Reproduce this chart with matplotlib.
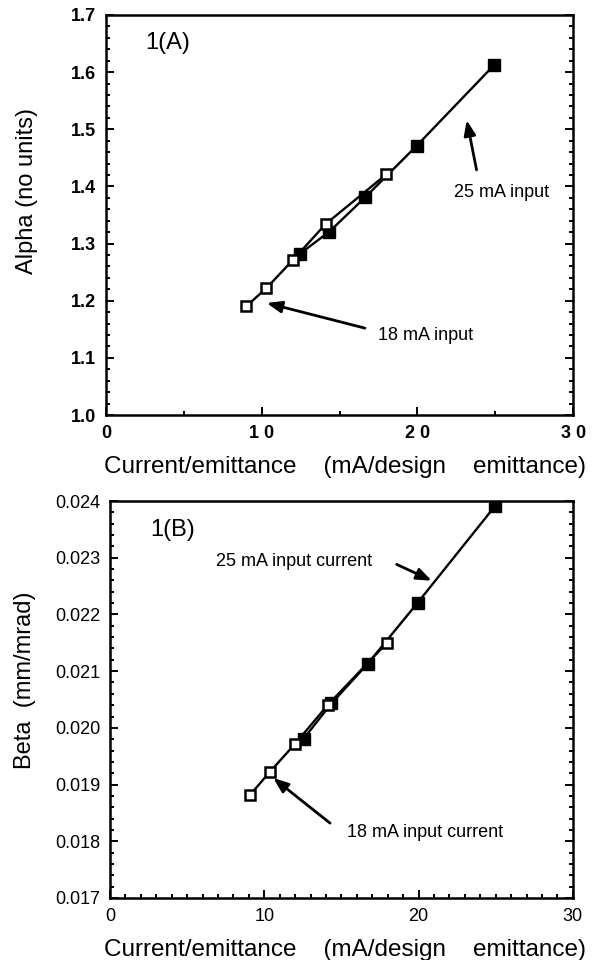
import matplotlib
matplotlib.use("Agg")
import matplotlib.pyplot as plt
from matplotlib.ticker import MultipleLocator, FixedLocator

plt.rcParams['font.family'] = ['Liberation Sans', 'DejaVu Sans']

# Panel A: Alpha
a18_x = [9.0, 10.3, 12.0, 14.1, 18.0]
a18_y = [1.19, 1.222, 1.271, 1.334, 1.421]
a25_x = [12.45, 14.35, 16.65, 19.95, 24.95]
a25_y = [1.282, 1.321, 1.381, 1.471, 1.613]

# Panel B: Beta
b18_x = [9.05, 10.35, 12.0, 14.1, 17.95]
b18_y = [0.01881, 0.01922, 0.01972, 0.02040, 0.02150]
b25_x = [12.55, 14.35, 16.7, 19.95, 24.95]
b25_y = [0.01981, 0.02043, 0.02113, 0.02221, 0.02391]

fig = plt.figure(figsize=(5.98, 9.6), dpi=100)
ax1 = fig.add_axes([0.1773, 0.5677, 0.781, 0.4167])
ax2 = fig.add_axes([0.184, 0.0646, 0.774, 0.4135])

lw = 1.7
arrow = dict(arrowstyle='-|>,head_length=0.9,head_width=0.35',
             color='black', lw=2.0, shrinkA=0, shrinkB=0)

for ax, x18, y18, x25, y25 in [(ax1, a18_x, a18_y, a25_x, a25_y),
                               (ax2, b18_x, b18_y, b25_x, b25_y)]:
    ax.plot(x25, y25, '-', color='black', lw=lw, marker='s', ms=8.5,
            mfc='black', mec='black', zorder=3)
    ax.plot(x18, y18, '-', color='black', lw=lw, marker='s', ms=7.5,
            mfc='white', mec='black', mew=1.8, zorder=4)
    for s in ax.spines.values():
        s.set_linewidth(1.8)
    ax.tick_params(direction='in', which='both', right=True, top=False,
                   labelsize=13, width=1.4, pad=7)
    ax.tick_params(which='major', length=6)
    ax.tick_params(which='minor', length=3)
    ax.set_xlim(0, 30)

# Panel A formatting
ax1.set_ylim(1.0, 1.7)
ax1.yaxis.set_minor_locator(MultipleLocator(0.02))
ax1.xaxis.set_major_locator(FixedLocator([0, 10, 20, 30]))
ax1.xaxis.set_minor_locator(MultipleLocator(5))
ax1.set_xticklabels(['0', '1 0', '2 0', '3 0'], fontweight='bold')
ax1.set_yticks([1.0, 1.1, 1.2, 1.3, 1.4, 1.5, 1.6, 1.7])
ax1.set_yticklabels(['1.0', '1.1', '1.2', '1.3', '1.4', '1.5', '1.6', '1.7'],
                    fontweight='bold')
ax1.set_xlabel('Current/emittance    (mA/design    emittance)', fontsize=17.5)
ax1.xaxis.set_label_coords(0.512, -0.13)
ax1.xaxis.label.set_va('center')
ax1.set_ylabel('Alpha (no units)', fontsize=17)
ax1.yaxis.set_label_coords(-0.169, 0.56)
ax1.yaxis.label.set_va('center')
ax1.text(0.083, 0.93, '1(A)', transform=ax1.transAxes, fontsize=17,
         va='center', ha='left')
ax1.text(25.4, 1.389, '25 mA input', fontsize=13, ha='center', va='center')
ax1.annotate('', xy=(23.17, 1.516), xytext=(23.8, 1.429), arrowprops=arrow)
ax1.text(20.5, 1.14, '18 mA input', fontsize=13, ha='center', va='center')
ax1.annotate('', xy=(10.32, 1.196), xytext=(16.63, 1.152), arrowprops=arrow)

# Panel B formatting
ax2.set_ylim(0.017, 0.024)
ax2.set_yticks([0.017, 0.018, 0.019, 0.020, 0.021, 0.022, 0.023, 0.024])
ax2.set_yticklabels(['0.017', '0.018', '0.019', '0.020', '0.021', '0.022',
                     '0.023', '0.024'])
ax2.yaxis.set_minor_locator(MultipleLocator(0.0002))
ax2.xaxis.set_major_locator(FixedLocator([0, 10, 20, 30]))
ax2.xaxis.set_minor_locator(MultipleLocator(1))
ax2.set_xticklabels(['0', '10', '20', '30'])
ax2.set_xlabel('Current/emittance    (mA/design    emittance)', fontsize=17.5)
ax2.xaxis.set_label_coords(0.508, -0.131)
ax2.xaxis.label.set_va('center')
ax2.set_ylabel('Beta  (mm/mrad)', fontsize=17)
ax2.yaxis.set_label_coords(-0.184, 0.549)
ax2.yaxis.label.set_va('center')
ax2.text(0.086, 0.927, '1(B)', transform=ax2.transAxes, fontsize=17,
         va='center', ha='left')
ax2.text(11.93, 0.02294, '25 mA input current', fontsize=13,
         ha='center', va='center')
ax2.annotate('', xy=(20.85, 0.022595), xytext=(18.58, 0.022883),
             arrowprops=arrow)
ax2.text(20.4, 0.01815, '18 mA input current', fontsize=13,
         ha='center', va='center')
ax2.annotate('', xy=(10.58, 0.019115), xytext=(14.26, 0.01832),
             arrowprops=arrow)

fig.savefig('out.png', dpi=100)
